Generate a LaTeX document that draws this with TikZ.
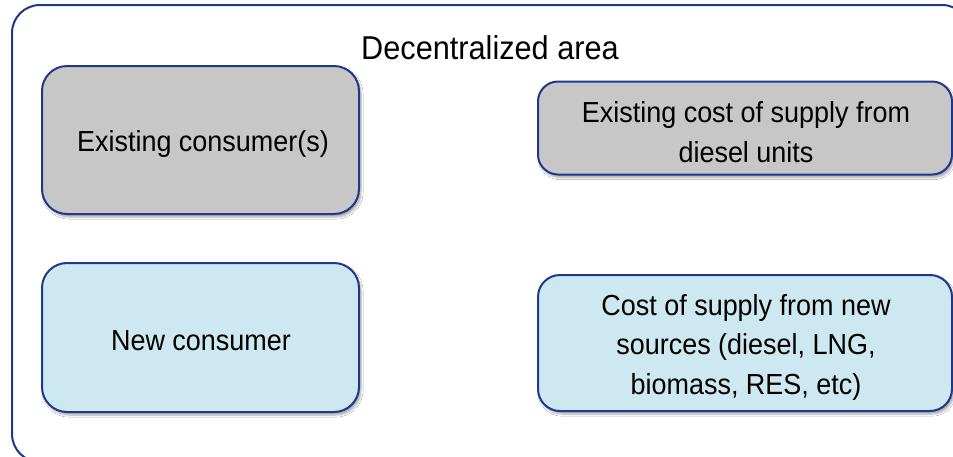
\documentclass[tikz,border=0pt]{standalone}
\usepackage{fontspec}
\setmainfont{Liberation Sans}[FakeStretch=0.93]
\usetikzlibrary{shadows.blur}
\definecolor{edgeblue}{RGB}{32,56,140}
\definecolor{boxgray}{RGB}{199,199,199}
\definecolor{boxblue}{RGB}{205,232,241}
\tikzset{
  areabox/.style={draw=edgeblue, line width=2pt, rounded corners=28pt, fill=white},
  box/.style={draw=edgeblue, line width=2pt, inner sep=0pt,
    blur shadow={shadow xshift=2pt, shadow yshift=-3pt, shadow blur steps=6, shadow opacity=35}},
  graybox/.style={box, fill=boxgray},
  bluebox/.style={box, fill=boxblue},
  boxtext/.style={align=center, inner sep=0pt, font=\fontsize{29}{39.5}\selectfont},
  titletext/.style={font=\fontsize{33}{38}\selectfont, inner sep=0pt}
}
\begin{document}
\begin{tikzpicture}[x=1pt,y=-1pt]
\useasboundingbox (0,0) rectangle (953,456);
\clip (0,0) rectangle (953,456);
\fill[white] (0,0) rectangle (953,456);
\node[areabox, minimum width=958pt, minimum height=457pt, inner sep=0pt] (area) at (491,233.5) {};
\node[titletext] (title) at (490,48) {Decentralized area};
\node[graybox, rounded corners=25pt, minimum width=317pt, minimum height=148pt] (existing) at (200.5,140) {};
\node[boxtext] (existingtext) at (203,144) {Existing consumer(s)};
\node[graybox, rounded corners=20pt, minimum width=414pt, minimum height=93pt] (existcost) at (745,128) {};
\node[boxtext] (existcosttext) at (746,132) {Existing cost of supply from\\diesel units};
\node[bluebox, rounded corners=25pt, minimum width=317pt, minimum height=149pt] (newcons) at (200.5,337.5) {};
\node[boxtext] (newconstext) at (201,341) {New consumer};
\node[bluebox, rounded corners=22pt, minimum width=414pt, minimum height=136pt] (newcost) at (745,343) {};
\node[boxtext] (newcosttext) at (746,347) {Cost of supply from new\\sources (diesel, LNG,\\biomass, RES, etc)};
\end{tikzpicture}
\end{document}
